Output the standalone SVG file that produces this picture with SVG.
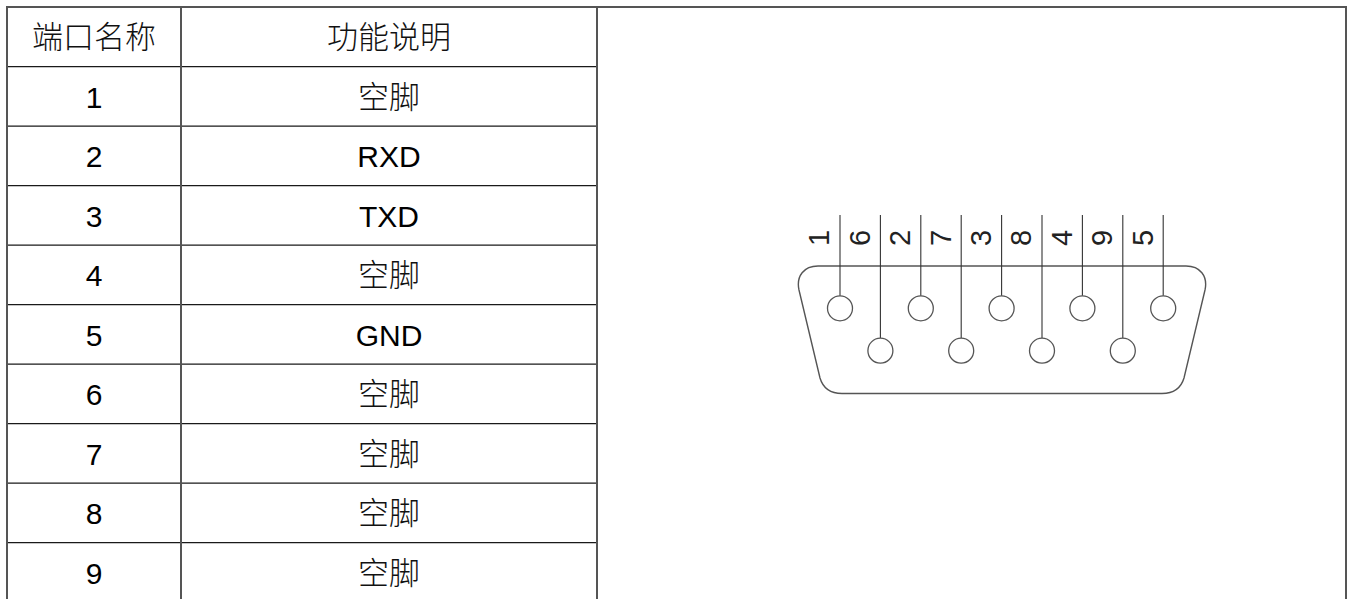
<svg xmlns="http://www.w3.org/2000/svg" width="1349" height="599" viewBox="0 0 1349 599">
<style>
.bg{fill:#fff}
.border{stroke:#555;stroke-width:2;fill:none}
.rowline{stroke:#1a1a1a;stroke-width:1.2;fill:none}
.num{font-family:"Liberation Sans",Arial,sans-serif;font-size:30px;fill:#000;text-anchor:middle}
.cjk{font-family:"Liberation Sans","Noto Sans CJK SC",sans-serif;font-size:31px;font-weight:300;fill:#111;text-anchor:middle}
.shell{stroke:#555;stroke-width:1.4;fill:none}
.pin{stroke:#555;stroke-width:1.3;fill:#fff}
.lead{stroke:#333;stroke-width:1.1;fill:none}
.plabel{font-family:"Liberation Sans",Arial,sans-serif;font-size:29px;fill:#222;text-anchor:middle}
</style>
<rect class="bg" x="0" y="0" width="1349" height="599"/>
<g id="table">
<g id="table-lines">
<line class="rowline" x1="7" y1="66.7" x2="597" y2="66.7"/>
<line class="rowline" x1="7" y1="126.2" x2="597" y2="126.2"/>
<line class="rowline" x1="7" y1="185.7" x2="597" y2="185.7"/>
<line class="rowline" x1="7" y1="245.2" x2="597" y2="245.2"/>
<line class="rowline" x1="7" y1="304.7" x2="597" y2="304.7"/>
<line class="rowline" x1="7" y1="364.2" x2="597" y2="364.2"/>
<line class="rowline" x1="7" y1="423.7" x2="597" y2="423.7"/>
<line class="rowline" x1="7" y1="483.2" x2="597" y2="483.2"/>
<line class="rowline" x1="7" y1="542.7" x2="597" y2="542.7"/>
<line class="border" x1="6" y1="7" x2="1347" y2="7"/>
<line class="border" x1="7" y1="7" x2="7" y2="599"/>
<line class="border" x1="181" y1="7" x2="181" y2="599"/>
<line class="border" x1="597" y1="7" x2="597" y2="599"/>
<line class="border" x1="1346" y1="7" x2="1346" y2="599"/>
</g>
<g id="header">
<text class="cjk" x="94" y="48">端口名称</text>
<text class="cjk" x="389" y="48">功能说明</text>
</g>
<g id="row1"><text class="num" x="94" y="107.5">1</text><text class="cjk" x="389" y="107.5">空脚</text></g>
<g id="row2"><text class="num" x="94" y="167">2</text><text class="num" x="389" y="167">RXD</text></g>
<g id="row3"><text class="num" x="94" y="226.5">3</text><text class="num" x="389" y="226.5">TXD</text></g>
<g id="row4"><text class="num" x="94" y="286">4</text><text class="cjk" x="389" y="286">空脚</text></g>
<g id="row5"><text class="num" x="94" y="345.5">5</text><text class="num" x="389" y="345.5">GND</text></g>
<g id="row6"><text class="num" x="94" y="405">6</text><text class="cjk" x="389" y="405">空脚</text></g>
<g id="row7"><text class="num" x="94" y="464.5">7</text><text class="cjk" x="389" y="464.5">空脚</text></g>
<g id="row8"><text class="num" x="94" y="524">8</text><text class="cjk" x="389" y="524">空脚</text></g>
<g id="row9"><text class="num" x="94" y="583.5">9</text><text class="cjk" x="389" y="583.5">空脚</text></g>
</g>
<g id="connector">
<path id="shell" class="shell" d="M 818 266 L 1186 266 C 1200 266 1208 276 1205 290 L 1184 378 C 1181 388 1173 393.5 1162 393.5 L 842 393.5 C 831 393.5 823 388 820 378 L 799 290 C 796 276 804 266 818 266 Z"/>
<g id="leads">
<line class="lead" x1="840" y1="215" x2="840" y2="296"/>
<line class="lead" x1="880.4" y1="215" x2="880.4" y2="338"/>
<line class="lead" x1="920.8" y1="215" x2="920.8" y2="296"/>
<line class="lead" x1="961.2" y1="215" x2="961.2" y2="338"/>
<line class="lead" x1="1001.6" y1="215" x2="1001.6" y2="296"/>
<line class="lead" x1="1042" y1="215" x2="1042" y2="338"/>
<line class="lead" x1="1082.4" y1="215" x2="1082.4" y2="296"/>
<line class="lead" x1="1122.8" y1="215" x2="1122.8" y2="338"/>
<line class="lead" x1="1163.2" y1="215" x2="1163.2" y2="296"/>
</g>
<g id="pin1"><circle class="pin" cx="840" cy="308.3" r="12.5"/><text class="plabel" transform="translate(829.4,238) rotate(-90)">1</text></g>
<g id="pin6"><circle class="pin" cx="880.4" cy="350.7" r="12.5"/><text class="plabel" transform="translate(869.8,238) rotate(-90)">6</text></g>
<g id="pin2"><circle class="pin" cx="920.8" cy="308.3" r="12.5"/><text class="plabel" transform="translate(910.2,238) rotate(-90)">2</text></g>
<g id="pin7"><circle class="pin" cx="961.2" cy="350.7" r="12.5"/><text class="plabel" transform="translate(950.6,238) rotate(-90)">7</text></g>
<g id="pin3"><circle class="pin" cx="1001.6" cy="308.3" r="12.5"/><text class="plabel" transform="translate(991,238) rotate(-90)">3</text></g>
<g id="pin8"><circle class="pin" cx="1042" cy="350.7" r="12.5"/><text class="plabel" transform="translate(1031.4,238) rotate(-90)">8</text></g>
<g id="pin4"><circle class="pin" cx="1082.4" cy="308.3" r="12.5"/><text class="plabel" transform="translate(1071.8,238) rotate(-90)">4</text></g>
<g id="pin9"><circle class="pin" cx="1122.8" cy="350.7" r="12.5"/><text class="plabel" transform="translate(1112.2,238) rotate(-90)">9</text></g>
<g id="pin5"><circle class="pin" cx="1163.2" cy="308.3" r="12.5"/><text class="plabel" transform="translate(1152.6,238) rotate(-90)">5</text></g>
</g>
</svg>
